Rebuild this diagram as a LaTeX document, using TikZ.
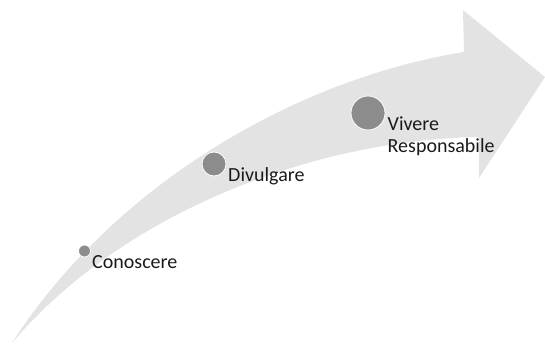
\documentclass[tikz,border=0pt]{standalone}
\usepackage{fontspec}
\setmainfont{Carlito}
\definecolor{arrowgray}{HTML}{E3E3E3}
\definecolor{dotgray}{HTML}{8C8C8C}
\definecolor{textc}{HTML}{1A1A1A}
\tikzset{
  dot/.style={circle, fill=dotgray, draw=white, line width=0.8pt, inner sep=0pt},
  lbl/.style={anchor=base west, inner sep=0pt, text=textc, font=\fontsize{20}{22}\selectfont, align=left}
}
\begin{document}
\begin{tikzpicture}[x=1pt,y=-1pt]
\useasboundingbox (0,0) rectangle (545,345);
\fill[arrowgray] (12,343) .. controls (110,190) and (290,80) .. (464,52)
  -- (463,10) -- (545,77) -- (479,178) -- (479,137)
  .. controls (310,140) and (120,215) .. (12,343) -- cycle;
\node[dot, minimum size=12pt] (c1) at (84.5,251) {};
\node[dot, minimum size=24pt] (c2) at (214,164) {};
\node[dot, minimum size=34pt] (c3) at (368,113) {};
\node[lbl] (t1) at (92,268) {Conoscere};
\node[lbl] (t2) at (228,181) {Divulgare};
\node[lbl] (t3) at (387.5,152) {Vivere\\Responsabile};
\end{tikzpicture}
\end{document}
